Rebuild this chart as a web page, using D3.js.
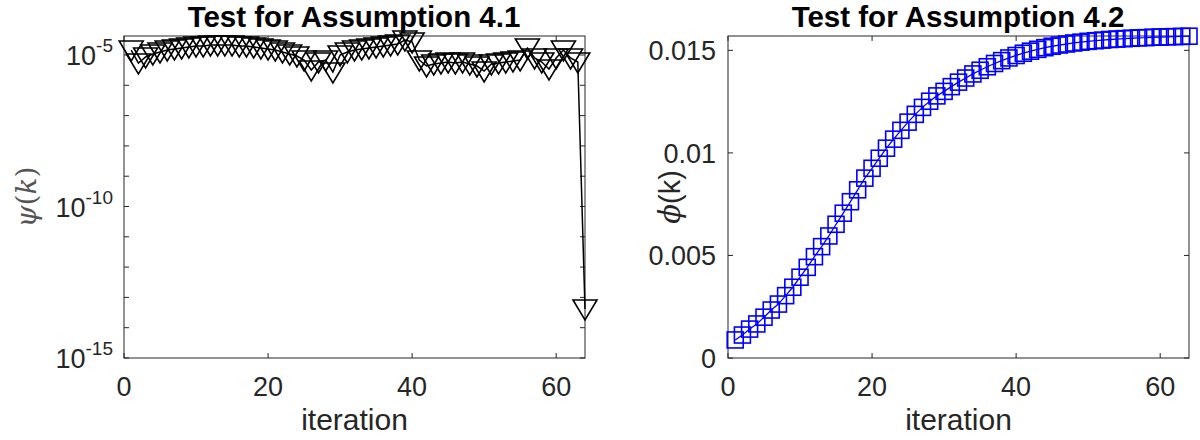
<!DOCTYPE html>
<html><head><meta charset="utf-8">
<script src="https://d3js.org/d3.v7.min.js"></script>
<style>body{margin:0;background:#fff}svg{display:block}</style>
</head><body>
<svg id="c" width="1200" height="440"></svg>
<script>
const iterations = [1,2,3,4,5,6,7,8,9,10,11,12,13,14,15,16,17,18,19,20,21,22,23,24,25,26,27,28,29,30,31,32,
  33,34,35,36,37,38,39,40,41,42,43,44,45,46,47,48,49,50,51,52,53,54,55,56,57,58,59,60,61,62,63,64];
const psiValues = [1.46e-5,5.44e-6,8.59e-6,1.08e-5,1.26e-5,1.46e-5,1.58e-5,1.70e-5,1.84e-5,1.98e-5,
  1.98e-5,2.14e-5,2.14e-5,2.14e-5,2.14e-5,1.98e-5,1.98e-5,1.84e-5,1.70e-5,1.58e-5,
  1.46e-5,1.26e-5,1.08e-5,9.27e-6,6.84e-6,3.20e-6,5.87e-6,6.84e-6,2.75e-6,1.00e-5,
  1.26e-5,1.46e-5,1.58e-5,1.70e-5,1.84e-5,1.98e-5,2.14e-5,2.31e-5,3.13e-5,2.69e-5,
  6.84e-6,4.33e-6,5.04e-6,5.44e-6,5.87e-6,5.44e-6,5.87e-6,5.04e-6,4.33e-6,2.96e-6,
  5.04e-6,5.44e-6,5.87e-6,6.34e-6,6.84e-6,1.70e-5,7.96e-6,5.87e-6,3.45e-6,7.96e-6,
  1.46e-5,7.96e-6,5.87e-6,4.14e-14];
const phiValues = [0.00088,0.00112,0.00141,0.00166,0.00199,0.00234,0.00263,0.00304,0.00345,0.00394,
  0.00442,0.00494,0.00543,0.00595,0.00652,0.00706,0.00762,0.00820,0.00877,0.00925,
  0.00974,0.01023,0.01067,0.01110,0.01150,0.01188,0.01222,0.01252,0.01278,0.01300,
  0.01323,0.01345,0.01365,0.01385,0.01403,0.01420,0.01436,0.01450,0.01463,0.01475,
  0.01486,0.01496,0.01505,0.01513,0.01520,0.01526,0.01531,0.01536,0.01540,0.01544,
  0.01547,0.01550,0.01553,0.01555,0.01557,0.01559,0.01561,0.01562,0.01564,0.01565,
  0.01566,0.01567,0.01568,0.01569];
const xTicks = [0,20,40,60];
const psiTicks = [1e-15,1e-14,1e-13,1e-12,1e-11,1e-10,1e-9,1e-8,1e-7,1e-6,1e-5];
const psiLabelExp = {"-15":"-15","-10":"-10","-5":"-5"};
const phiTicks = [0,0.005,0.01,0.015];
const phiTickLabels = ["0","0.005","0.01","0.015"];
const titles = ["Test for Assumption 4.1","Test for Assumption 4.2"];

const svg = d3.select("#c");
const axCol = "#262626";
const tickFont = "Liberation Sans, Arial, sans-serif";
const yTop = 36, yBot = 358;

function frame(g, x, xr) {
  g.append("rect").attr("x", xr[0]).attr("y", yTop).attr("width", xr[1]-xr[0]).attr("height", yBot-yTop)
    .attr("fill","none").attr("stroke",axCol).attr("stroke-width",1);
  xTicks.forEach(t => {
    const px = x(t);
    g.append("line").attr("x1",px).attr("x2",px).attr("y1",yBot).attr("y2",yBot-5).attr("stroke",axCol);
    g.append("line").attr("x1",px).attr("x2",px).attr("y1",yTop).attr("y2",yTop+5).attr("stroke",axCol);
    g.append("text").attr("x",px).attr("y",396).attr("text-anchor","middle")
      .attr("font-family",tickFont).attr("font-size",27).attr("fill",axCol).text(t);
  });
  g.append("text").attr("x",(xr[0]+xr[1])/2).attr("y",430).attr("text-anchor","middle")
    .attr("font-family",tickFont).attr("font-size",30).attr("fill",axCol).text("iteration");
}

// ---------- Left plot ----------
const xL = d3.scaleLinear().domain([0,64]).range([124,585]);
const yL = d3.scaleLog().domain([1e-15, 4.24e-5]).range([yBot, yTop]);
const gL = svg.append("g");
frame(gL, xL, [124,585]);
psiTicks.forEach(t => {
  const py = yL(t);
  gL.append("line").attr("x1",124).attr("x2",129).attr("y1",py).attr("y2",py).attr("stroke",axCol);
  gL.append("line").attr("x1",585).attr("x2",580).attr("y1",py).attr("y2",py).attr("stroke",axCol);
  const e = String(Math.round(Math.log10(t)));
  if (psiLabelExp[e]) {
    const tx = gL.append("text").attr("x",113).attr("y",py+10).attr("text-anchor","end")
      .attr("font-family",tickFont).attr("font-size",27).attr("fill",axCol);
    tx.append("tspan").text("10");
    tx.append("tspan").attr("dy",-13).attr("font-size",19).text(psiLabelExp[e]);
  }
});
gL.append("text").attr("transform","translate(36,197) rotate(-90)").attr("text-anchor","middle")
  .attr("font-family","DejaVu Serif, serif").attr("font-size",28).attr("fill","#555")
  .html('<tspan font-style="italic">ψ</tspan>(<tspan font-style="italic">k</tspan>)');
const lineL = d3.line().x((d,i)=>xL(iterations[i])).y(d=>yL(d));
gL.append("path").attr("d",lineL(psiValues)).attr("fill","none").attr("stroke","#000").attr("stroke-width",1.5);
gL.selectAll("path.tri").data(psiValues).enter().append("path").attr("class","tri")
  .attr("transform",(d,i)=>`translate(${xL(iterations[i])},${yL(d)})`)
  .attr("d","M-12,-9L12,-9L0,11Z").attr("fill","none").attr("stroke","#000").attr("stroke-width",1.6);
gL.append("text").attr("x",354).attr("y",27).attr("text-anchor","middle")
  .attr("font-family",tickFont).attr("font-weight","bold").attr("font-size",29.5).attr("fill","#000").text(titles[0]);

// ---------- Right plot ----------
const xR = d3.scaleLinear().domain([0,64]).range([728,1189]);
const yR = d3.scaleLinear().domain([0,0.0157]).range([yBot, yTop]);
const gR = svg.append("g");
frame(gR, xR, [728,1189]);
phiTicks.forEach((t,i) => {
  const py = yR(t);
  gR.append("line").attr("x1",728).attr("x2",733).attr("y1",py).attr("y2",py).attr("stroke",axCol);
  gR.append("line").attr("x1",1189).attr("x2",1184).attr("y1",py).attr("y2",py).attr("stroke",axCol);
  gR.append("text").attr("x",716).attr("y",py+10).attr("text-anchor","end")
    .attr("font-family",tickFont).attr("font-size",27).attr("fill",axCol).text(phiTickLabels[i]);
});
gR.append("text").attr("transform","translate(680,197) rotate(-90)").attr("text-anchor","middle")
  .attr("font-family",tickFont).attr("font-size",29).attr("fill",axCol)
  .html('<tspan font-family="DejaVu Serif, serif" font-style="italic">ϕ</tspan>(k)');
const lineR = d3.line().x((d,i)=>xR(iterations[i])).y(d=>yR(d));
gR.append("path").attr("d",lineR(phiValues)).attr("fill","none").attr("stroke","#0000ff").attr("stroke-width",1.3);
gR.selectAll("rect.sq").data(phiValues).enter().append("rect").attr("class","sq")
  .attr("x",(d,i)=>xR(iterations[i])-8).attr("y",d=>yR(d)-8).attr("width",16).attr("height",16)
  .attr("fill","none").attr("stroke","#0000ff").attr("stroke-width",1.6);
gR.append("text").attr("x",958).attr("y",27).attr("text-anchor","middle")
  .attr("font-family",tickFont).attr("font-weight","bold").attr("font-size",29.5).attr("fill","#000").text(titles[1]);
</script>
</body></html>
